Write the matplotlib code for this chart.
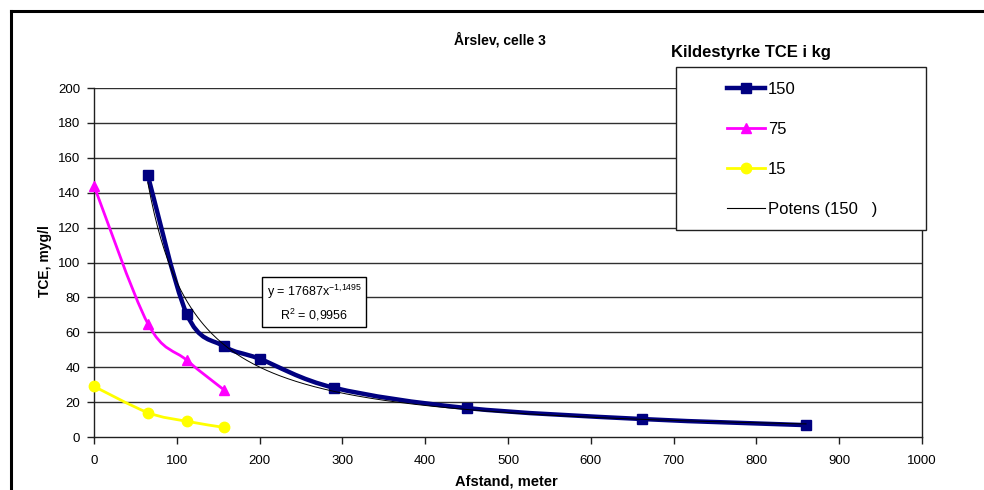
import numpy as np
import matplotlib
matplotlib.use("Agg")
import matplotlib.pyplot as plt
from matplotlib.path import Path
from matplotlib.patches import PathPatch, Rectangle
from matplotlib.lines import Line2D

plt.rcParams['font.family'] = ['Liberation Sans', 'DejaVu Sans']
plt.rcParams['mathtext.fontset'] = 'custom'
plt.rcParams['mathtext.rm'] = 'Liberation Sans'
plt.rcParams['mathtext.it'] = 'Liberation Sans'

# data
x150 = [65, 112, 157, 200, 290, 450, 662, 860]
y150 = [150, 70.5, 52, 44.8, 28.2, 16.6, 10.3, 6.8]
x75 = [0, 65, 112, 157]
y75 = [144, 65, 44, 27]
x15 = [0, 65, 112, 157]
y15 = [29, 14, 9, 5.5]
trend_a = 17687
trend_b = -1.1495
r2 = "0,9956"

W, H = 984, 490


def smooth_path(xs, ys):
    # bezier through the points, like a smoothed line in a spreadsheet chart
    p = np.column_stack([xs, ys]).astype(float)
    n = len(p)
    verts = [p[0]]
    codes = [Path.MOVETO]
    for i in range(n - 1):
        p0 = p[i - 1] if i > 0 else p[i]
        p3 = p[i + 2] if i + 2 < n else p[i + 1]
        c1 = p[i] + (p[i + 1] - p0) / 6
        c2 = p[i + 1] - (p3 - p[i]) / 6
        verts += [c1, c2, p[i + 1]]
        codes += [Path.CURVE4] * 3
    return Path(verts, codes)


fig = plt.figure(figsize=(W / 100, H / 100), dpi=100)
ax = fig.add_axes([94 / W, 1 - 437 / H, 828 / W, 349 / H])

ax.set_xlim(0, 1000)
ax.set_ylim(0, 200)
ax.set_xticks(range(0, 1001, 100))
ax.set_yticks(range(0, 201, 20))
for yv in range(20, 201, 20):
    ax.axhline(yv, color='#303030', lw=1, zorder=1)
ax.spines['top'].set_visible(False)
for s in ['left', 'bottom', 'right']:
    ax.spines[s].set_color('#202020')
    ax.spines[s].set_linewidth(1)
ax.tick_params(direction='out', length=5, width=1, color='#202020',
               labelsize=9.5, pad=5)
ax.tick_params(axis='x', pad=8)

# series
series = [(x150, y150, '#000080', 's', 3.2, 6.5),
          (x75, y75, '#FF00FF', '^', 2.0, 7.5),
          (x15, y15, '#FFFF00', 'o', 2.0, 7.5)]
for xs, ys, col, mk, lw, ms in series:
    ax.add_patch(PathPatch(smooth_path(xs, ys), fill=False, edgecolor=col,
                           lw=lw, capstyle='round', joinstyle='round', zorder=3))
    ax.plot(xs, ys, ls='none', marker=mk, color=col, ms=ms, zorder=4,
            clip_on=False)

xt = np.linspace(x150[0], x150[-1], 400)
ax.plot(xt, trend_a * xt ** trend_b, color='black', lw=0.7, zorder=5)

ax.text(266, 77, "y = 17687x$^{-1{,}1495}$\nR$^{2}$ = " + r2, fontsize=9,
        ha='center', va='center', linespacing=1.45, zorder=6,
        bbox=dict(boxstyle='square,pad=0.35', fc='white', ec='black', lw=1))

fig.text(506 / W, 1 - 481 / H, "Afstand, meter", fontsize=10.5,
         fontweight='bold', ha='center', va='center')
fig.text(45 / W, 1 - 261 / H, "TCE, myg/l", fontsize=10, rotation=90,
         fontweight='bold', ha='center', va='center')

fig.text(500 / W, 1 - 40 / H, "Årslev, celle 3", fontsize=10,
         fontweight='bold', ha='center', va='center')

# legend box and title
fig.patches.append(Rectangle((676 / W, 1 - 230 / H), 250 / W, 163 / H,
                             transform=fig.transFigure, fc='white',
                             ec='#202020', lw=1, zorder=4))
fig.text(671 / W, 1 - 52 / H, "Kildestyrke TCE i kg", fontsize=12,
         fontweight='bold', ha='left', va='center')
handles = [Line2D([], [], color='#000080', lw=3.2, marker='s', ms=6.5),
           Line2D([], [], color='#FF00FF', lw=2.0, marker='^', ms=7.5),
           Line2D([], [], color='#FFFF00', lw=2.0, marker='o', ms=7.5),
           Line2D([], [], color='black', lw=0.8)]
labels = ["150", "75", "15", "Potens (150   )"]
fig.legend(handles, labels, loc='upper left',
           bbox_to_anchor=(727 / W, 1 - 82 / H), frameon=False,
           fontsize=12, handlelength=2.3, handletextpad=0.15,
           labelspacing=1.5, borderpad=0, borderaxespad=0)

# outer chart border
fig.add_artist(Line2D([11 / W, 1.0], [1 - 11 / H, 1 - 11 / H],
                      transform=fig.transFigure, color='black', lw=2.2))
fig.add_artist(Line2D([11 / W, 11 / W], [0, 1 - 11 / H],
                      transform=fig.transFigure, color='black', lw=2.2))

fig.savefig("out.png", dpi=100)
